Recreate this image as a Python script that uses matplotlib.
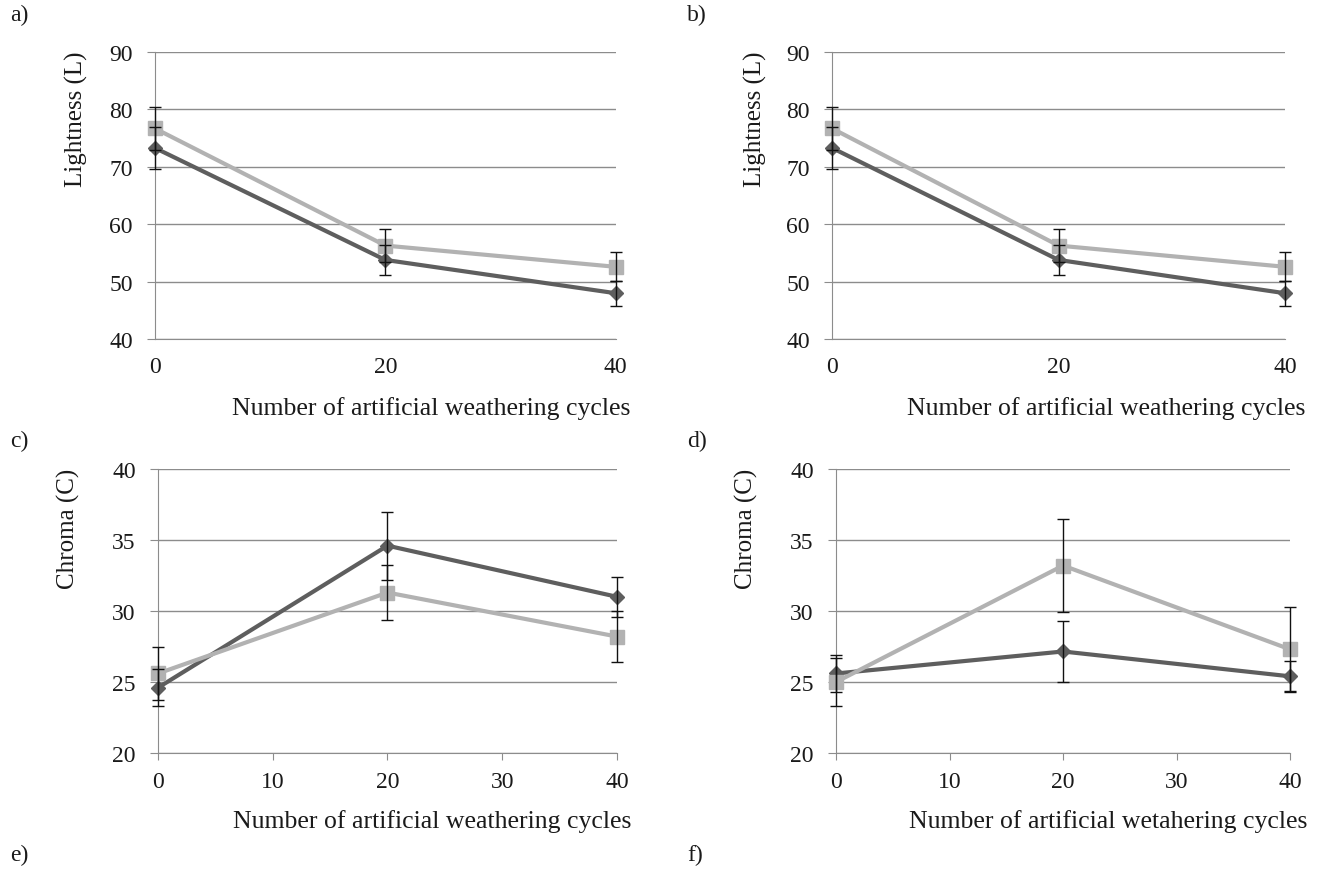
import numpy as np
import matplotlib
matplotlib.use('Agg')
import matplotlib.pyplot as plt

plt.rcParams['font.family'] = ['Liberation Serif', 'DejaVu Serif']

# --- data ---
cycles = [0, 20, 40]

# a) and b) lightness (identical panels)
light_dark = [73.3, 53.8, 48.0]
light_dark_err = [3.6, 2.6, 2.2]
light_light = [76.7, 56.3, 52.6]
light_light_err = [3.7, 2.9, 2.5]

# c) chroma
c_dark = [24.6, 34.6, 31.0]
c_dark_err = [1.3, 2.4, 1.4]
c_light = [25.6, 31.3, 28.2]
c_light_err = [1.9, 1.95, 1.8]

# d) chroma
d_dark = [25.6, 27.15, 25.4]
d_dark_err = [1.3, 2.15, 1.1]
d_light = [25.0, 33.2, 27.3]
d_light_err = [1.7, 3.3, 2.95]

DARK = '#5e5e5e'
LIGHT = '#b2b2b2'
GRID = '#8c8c8c'
TXT = '#1a1a1a'

fig = plt.figure(figsize=(13.3, 8.7), dpi=100)


def make_ax(rect, dark, dark_err, light, light_err, ylim, yticks, xticks,
            ylabel, xlabel, ylab_pos, xlab_pos, xtick_marks):
    ax = fig.add_axes(rect)
    ax.set_xlim(0, 40)
    ax.set_ylim(*ylim)
    ax.set_yticks(yticks)
    ax.set_xticks(xticks)
    ax.grid(axis='y', color=GRID, lw=1)
    ax.set_axisbelow(True)
    for s in ['top', 'right']:
        ax.spines[s].set_visible(False)
    ax.spines['left'].set_color(GRID)
    ax.spines['bottom'].set_color(GRID)
    ax.tick_params(axis='y', length=6, color=GRID, labelsize=17, pad=10,
                   labelcolor=TXT)
    ax.tick_params(axis='x', length=5 if xtick_marks else 0, color=GRID,
                   labelsize=17, pad=12 if not xtick_marks else 8,
                   labelcolor=TXT)

    ax.plot(cycles, dark, color=DARK, lw=3, marker='D', ms=7,
            clip_on=False, zorder=3)
    ax.plot(cycles, light, color=LIGHT, lw=3, marker='s', ms=10,
            clip_on=False, zorder=4)
    for y, e in [(dark, dark_err), (light, light_err)]:
        eb = ax.errorbar(cycles, y, yerr=e, fmt='none', ecolor='#111111',
                         elinewidth=1, capsize=4.3, capthick=1, zorder=5)
        for art in eb.lines[1]:
            art.set_clip_on(False)
        for art in eb.lines[2]:
            art.set_clip_on(False)

    ax.text(ylab_pos[0], ylab_pos[1], ylabel, transform=ax.transAxes,
            rotation=90, ha='center', va='center', fontsize=18, color=TXT)
    ax.text(xlab_pos[0], xlab_pos[1], xlabel, transform=ax.transAxes,
            ha='center', va='center', fontsize=18.5, color=TXT)
    return ax


xl = 'Number of artificial weathering cycles'

make_ax([0.1165, 0.609, 0.3465, 0.330], light_dark, light_dark_err,
        light_light, light_light_err, (40, 90), range(40, 91, 10),
        [0, 20, 40], 'Lightness (L)', xl, (-0.171, 0.77), (0.60, -0.237),
        False)
make_ax([0.6256, 0.609, 0.3406, 0.330], light_dark, light_dark_err,
        light_light, light_light_err, (40, 90), range(40, 91, 10),
        [0, 20, 40], 'Lightness (L)', xl, (-0.170, 0.77), (0.605, -0.237),
        False)
make_ax([0.1188, 0.1333, 0.3451, 0.3265], c_dark, c_dark_err,
        c_light, c_light_err, (20, 40), range(20, 41, 5),
        range(0, 41, 10), 'Chroma (C)', xl, (-0.196, 0.792), (0.597, -0.239),
        True)
make_ax([0.6286, 0.1333, 0.3414, 0.3265], d_dark, d_dark_err,
        d_light, d_light_err, (20, 40), range(20, 41, 5),
        range(0, 41, 10), 'Chroma (C)',
        'Number of artificial wetahering cycles', (-0.198, 0.792),
        (0.599, -0.239), True)

for lab, x, y in [('a)', 10, 15), ('b)', 687, 15), ('c)', 10, 441),
                  ('d)', 687, 441), ('e)', 10, 855), ('f)', 687, 855)]:
    fig.text(x / 1330, 1 - y / 870, lab, ha='left', va='center', fontsize=17,
             color=TXT)

fig.savefig('out.png', dpi=100)
